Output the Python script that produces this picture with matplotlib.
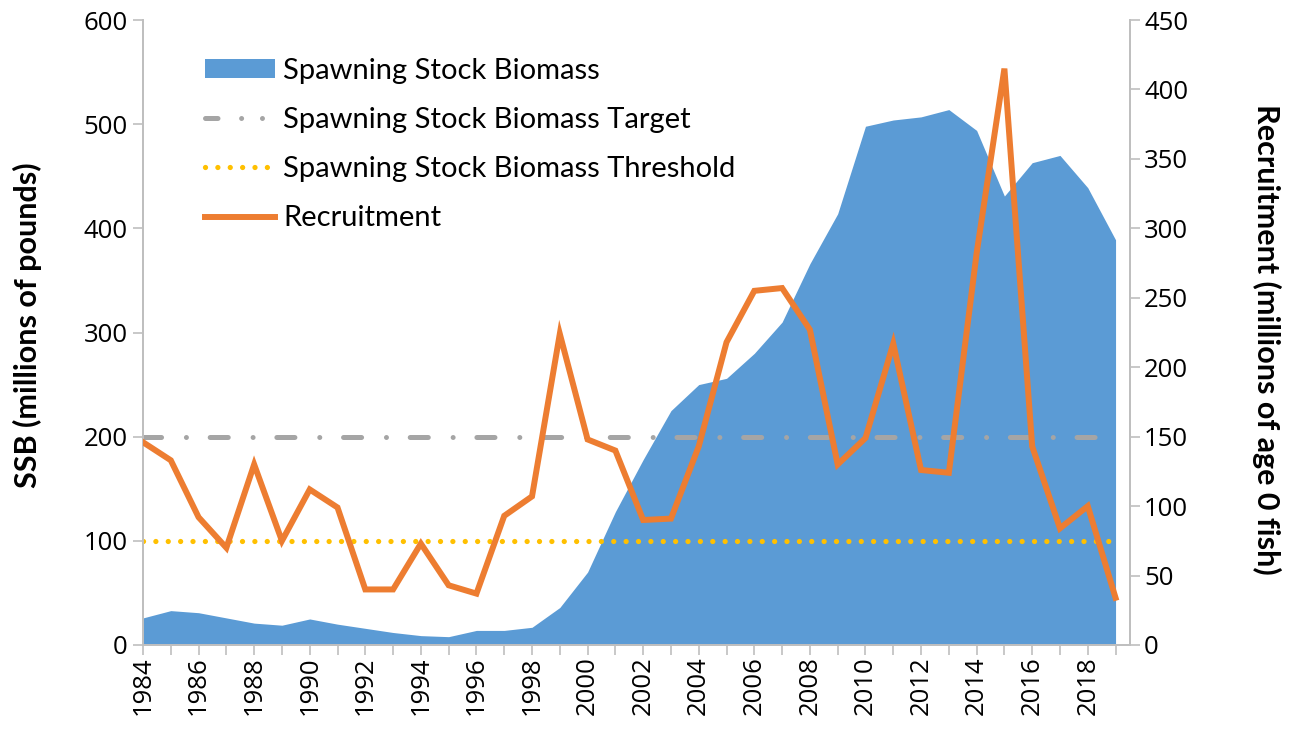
import matplotlib
matplotlib.use("Agg")
import matplotlib.pyplot as plt
from matplotlib.patches import Patch
from matplotlib.lines import Line2D

plt.rcParams['font.family'] = ['Lato', 'DejaVu Sans']
plt.rcParams['lines.scale_dashes'] = False

years = list(range(1984, 2020))
ssb = [26, 33, 31, 26, 21, 19, 25, 20, 16, 12, 9, 8, 14, 14, 17, 36,
       70, 128, 178, 225, 250, 256, 280, 310, 366, 414, 498, 504, 507, 514,
       494, 431, 463, 470, 439, 389]
recruitment = [146, 133, 92, 70, 130, 75, 112, 99, 40, 40, 73, 43, 37, 93,
               107, 224, 148, 140, 90, 91, 143, 218, 255, 257, 227, 130, 149,
               217, 126, 124, 282, 415, 143, 84, 100, 34]
ssb_target = 200
ssb_threshold = 100

left_ticks = [0, 100, 200, 300, 400, 500, 600]
right_ticks = [0, 50, 100, 150, 200, 250, 300, 350, 400, 450]

BLUE = '#5B9BD5'
ORANGE = '#ED7D31'
GRAY = '#A5A5A5'
GOLD = '#FFC000'
AXIS = '#BFBFBF'

W, H = 1291, 736
fig = plt.figure(figsize=(W / 100, H / 100), dpi=100)
ax = fig.add_axes([143 / W, (H - 645) / H, (1130 - 143) / W, (645 - 20) / H])
ax2 = ax.twinx()

ax.fill_between(years, ssb, 0, color=BLUE, linewidth=0, zorder=1)
ax.plot([years[0], years[-1]], [ssb_target, ssb_target], color=GRAY, lw=3.6,
        dashes=(13.0, 17.9, 0.01, 17.1), dash_capstyle='round', zorder=2)
ax.plot([years[0], years[-1]], [ssb_threshold, ssb_threshold], color=GOLD, lw=3.8,
        dashes=(0.01, 8.9), dash_capstyle='round', zorder=2)
ax2.plot(years, recruitment, color=ORANGE, lw=4.3, solid_joinstyle='miter', zorder=3)

ax.set_xlim(1984, 2019.52)
ax.set_ylim(0, 600)
ax2.set_ylim(0, 450)

ax.set_yticks(left_ticks)
ax2.set_yticks(right_ticks)
ax.set_xticks(years)
ax.set_xticklabels([str(y) if (y - 1984) % 2 == 0 else '' for y in years], rotation=90)

tick_family = ['Open Sans', 'DejaVu Sans']
for a in (ax, ax2):
    for s in a.spines.values():
        s.set_color(AXIS)
        s.set_linewidth(1.3)
    a.spines['top'].set_visible(False)
    a.tick_params(colors=AXIS, labelcolor='black', length=7.2, width=1.2)
    for lab in a.get_xticklabels() + a.get_yticklabels():
        lab.set_fontfamily(tick_family)
        lab.set_fontsize(18.5)
ax.tick_params(axis='x', pad=1)
ax.tick_params(axis='y', pad=4)
ax2.tick_params(axis='y', pad=3)

ax.set_ylabel('SSB (millions of pounds)', fontsize=22, fontweight='bold')
ax.yaxis.set_label_coords(-(143 - 42) / 987, (645 - 325) / 625)
ax2.set_ylabel('Recruitment (millions of age 0 fish)', fontsize=22, fontweight='bold',
               rotation=270, va='bottom')
ax2.yaxis.set_label_coords((1252 - 143) / 987, (645 - 339) / 625)

handles = [Patch(facecolor=BLUE, edgecolor='none'),
           Line2D([], [], color=GRAY, lw=3.6, dashes=(9.0, 17.0, 0.01, 15.0, 0.01, 40.0),
                  dash_capstyle='round'),
           Line2D([], [], color=GOLD, lw=3.8, dashes=(0.01, 8.9), dash_capstyle='round'),
           Line2D([], [], color=ORANGE, lw=4.3)]
labels = ['Spawning Stock Biomass', 'Spawning Stock Biomass Target',
          'Spawning Stock Biomass Threshold', 'Recruitment']
leg = ax2.legend(handles, labels, loc='upper left', bbox_to_anchor=(62 / 987, 0.94),
                 frameon=False, fontsize=21, handlelength=2.4, handleheight=0.62,
                 handletextpad=0.27, labelspacing=0.8, borderaxespad=0, borderpad=0)

fig.savefig('out.png', dpi=100)
